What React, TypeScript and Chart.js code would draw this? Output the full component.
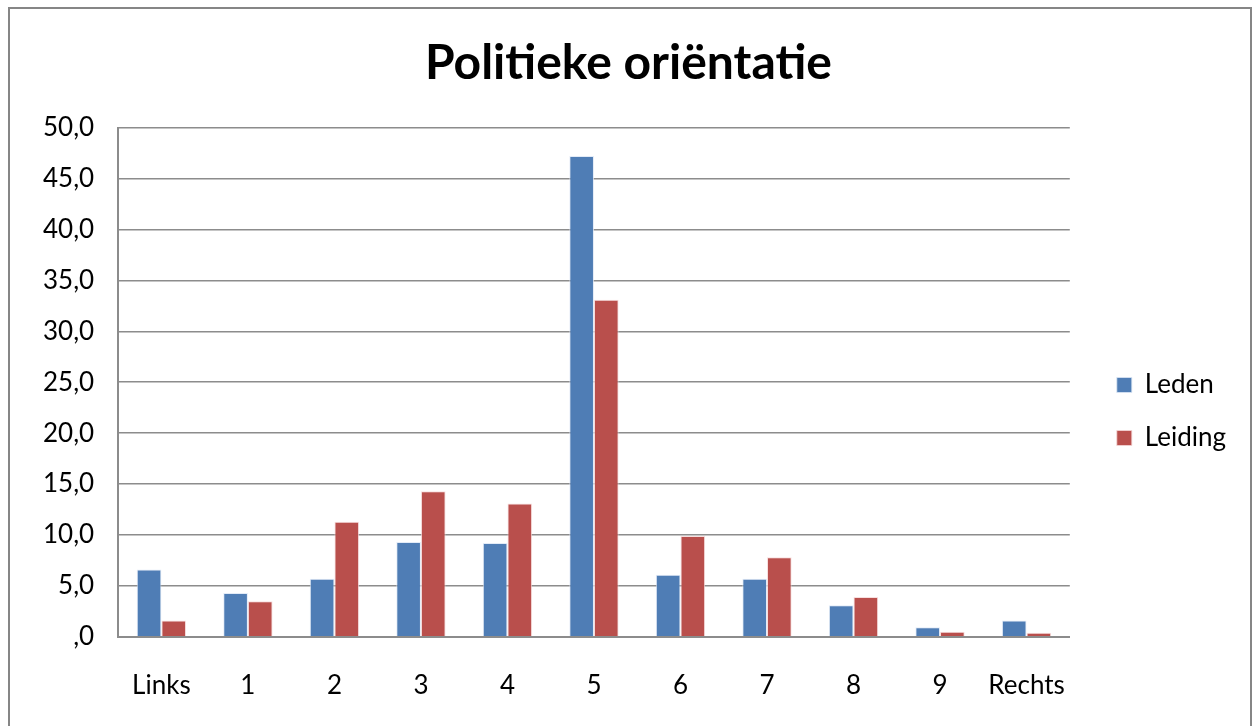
import React, { useEffect, useRef } from "react";
import { Chart, registerables } from "chart.js";

Chart.register(...registerables);

const categories = ["Links", "1", "2", "3", "4", "5", "6", "7", "8", "9", "Rechts"];
const ledenValues = [6.6, 4.3, 5.7, 9.3, 9.2, 47.2, 6.1, 5.7, 3.1, 0.95, 1.6];
const leidingValues = [1.6, 3.5, 11.3, 14.3, 13.1, 33.1, 9.9, 7.8, 3.9, 0.5, 0.4];
const seriesNames = ["Leden", "Leiding"];
const chartTitle = "Politieke oriëntatie";

const FONT = "Lato, 'Open Sans', sans-serif";

const boxShift = {
  id: "boxShift",
  afterLayout(chart: any) {
    const lg = chart.legend;
    if (lg) {
      lg.left += 20;
      lg.right += 20;
      lg.top += 40;
      lg.bottom += 40;
    }
    const tt = chart.titleBlock;
    if (tt) {
      tt.left += 11;
      tt.right += 11;
    }
  },
};

export default function App() {
  const ref = useRef<HTMLCanvasElement | null>(null);

  useEffect(() => {
    if (!ref.current) return;
    const chart = new Chart(ref.current, {
      type: "bar",
      data: {
        labels: categories,
        datasets: [
          {
            label: seriesNames[0],
            data: ledenValues,
            backgroundColor: "#4F7DB5",
            borderColor: "rgba(220,230,245,0.8)",
            borderWidth: 1,
            categoryPercentage: 0.57,
            barPercentage: 1.0,
          },
          {
            label: seriesNames[1],
            data: leidingValues,
            backgroundColor: "#B94F4C",
            borderColor: "rgba(245,215,215,0.8)",
            borderWidth: 1,
            categoryPercentage: 0.57,
            barPercentage: 1.0,
          },
        ],
      },
      options: {
        animation: false,
        responsive: false,
        maintainAspectRatio: false,
        layout: { padding: { left: 9, right: 34, top: 0, bottom: -10 } },
        plugins: {
          title: {
            display: true,
            text: chartTitle,
            color: "#000",
            font: { family: FONT, size: 48, weight: "bold" },
            padding: { top: 26, bottom: 35 },
          },
          legend: {
            position: "right",
            align: "center",
            labels: {
              color: "#000",
              font: { family: FONT, size: 26 },
              boxWidth: 15,
              boxHeight: 15,
              padding: 27,
            },
          },
          tooltip: { enabled: false },
        },
        scales: {
          x: {
            grid: { display: false, drawTicks: false },
            border: { display: true, color: "#8c8c8c", width: 2 },
            ticks: { color: "#000", font: { family: FONT, size: 26 }, padding: 33 },
          },
          y: {
            min: 0,
            max: 50,
            grid: { color: "#8c8c8c", lineWidth: 1.5, drawTicks: false },
            border: { display: true, color: "#8c8c8c", width: 2 },
            ticks: {
              stepSize: 5,
              color: "#000",
              font: { family: FONT, size: 26 },
              padding: 24,
              callback: (v: any) => {
                const n = Number(v);
                if (n === 0) return ",0";
                return n.toFixed(1).replace(".", ",");
              },
            },
          },
        },
      },
      plugins: [boxShift],
    });
    return () => chart.destroy();
  }, []);

  return (
    <div
      style={{
        position: "absolute",
        left: 8,
        top: 7,
        width: 1240,
        height: 717,
        borderTop: "2px solid #868686",
        borderLeft: "2px solid #868686",
        borderRight: "2px solid #868686",
        background: "#fff",
      }}
    >
      <canvas ref={ref} width={1240} height={715} style={{ display: "block" }} />
    </div>
  );
}
